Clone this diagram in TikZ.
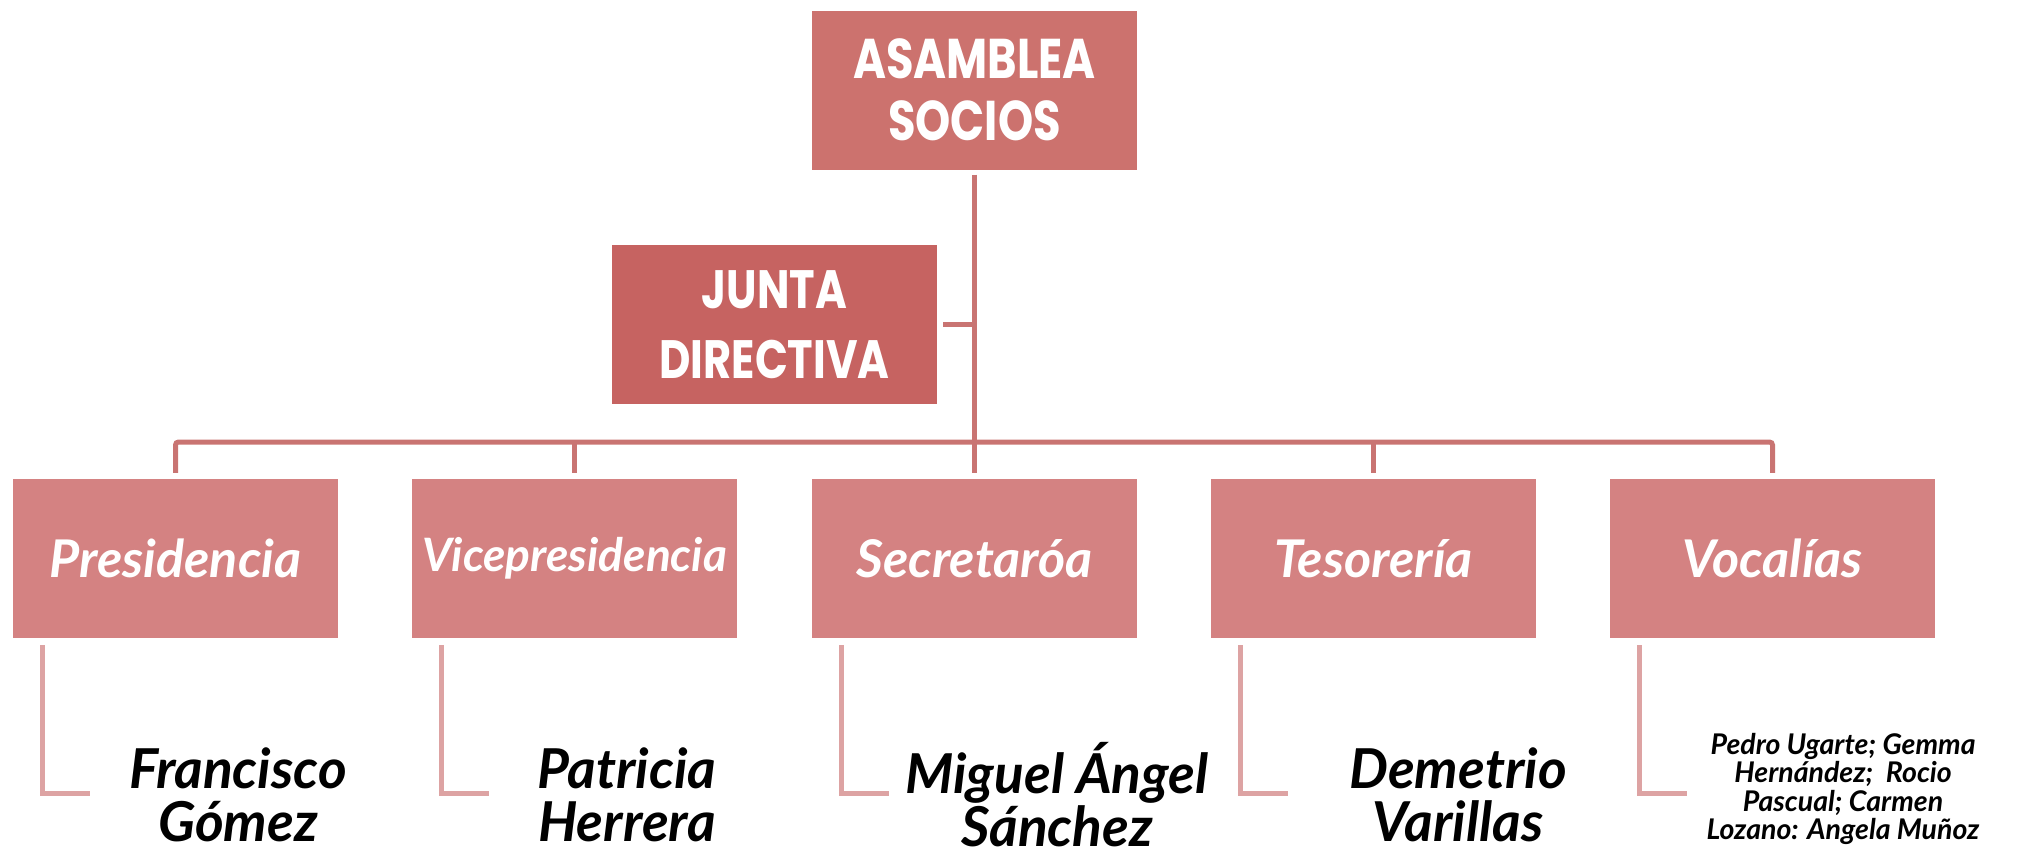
\documentclass[tikz,border=0pt]{standalone}
\usepackage{fontspec}
\newfontfamily\headf{Poppins}[FakeStretch=0.8]
\newfontfamily\scrf{Lato}
\definecolor{topc}{HTML}{CC726E}
\definecolor{juntac}{HTML}{C66361}
\definecolor{levc}{HTML}{D48282}
\definecolor{connc}{HTML}{C97472}
\definecolor{lc}{HTML}{DDA3A3}
\tikzset{
  headbox/.style={fill=topc, minimum width=325pt, minimum height=159pt, inner sep=0pt,
    text=white, align=center, font=\headf\bfseries\fontsize{56}{62}\selectfont},
  levbox/.style={fill=levc, minimum width=325pt, minimum height=159pt, inner sep=0pt,
    text=white, align=center, font=\scrf\bfseries\itshape\fontsize{52}{58}\selectfont},
  namef/.style={text=black, align=center, inner sep=0pt, font=\scrf\bfseries\itshape\fontsize{55}{53}\selectfont},
  conn/.style={draw=connc, line width=5pt, rounded corners=3pt},
  lconn/.style={draw=lc, line width=5pt}
}
\begin{document}
\begin{tikzpicture}[x=1pt,y=-1pt]
\useasboundingbox (0,0) rectangle (2019,857);
% top boxes
\node[headbox] (top) at (974.5,90) {ASAMBLEA\\SOCIOS};
\node[headbox, fill=juntac, font=\headf\bfseries\fontsize{54}{70}\selectfont] (junta) at (774.5,324.5) {JUNTA\\DIRECTIVA};
% level-2 boxes
\node[levbox] (p1) at (175.5,558.5) {Presidencia};
\node[levbox, font=\scrf\bfseries\itshape\fontsize{46}{52}\selectfont] (p2) at (574.5,558.5) {Vicepresidencia};
\node[levbox] (p3) at (974.5,558.5) {Secretaróa};
\node[levbox] (p4) at (1373.5,558.5) {Tesorería};
\node[levbox] (p5) at (1772.5,558.5) {Vocalías};
% names
\node[namef] (n1) at (238,795) {Francisco\\Gómez};
\node[namef] (n2) at (627,795) {Patricia\\Herrera};
\node[namef] (n3) at (1057,795) {Miguel Ángel\\Sánchez};
\node[namef] (n4) at (1458,795) {Demetrio\\Varillas};
\node[namef, font=\scrf\bfseries\itshape\fontsize{28.5}{28.5}\selectfont] (n5) at (1843,789) {Pedro Ugarte; Gemma\\Hernández;\ \ Rocio\\Pascual; Carmen\\Lozano: Angela Muñoz};
% connectors
\coordinate (bar) at (974.5,442);
\draw[conn] ([yshift=-5pt]top.south) -- ([yshift=6pt]p3.north);
\draw[conn] ([xshift=6pt]junta.east) -- (junta.east -| top.south);
\draw[conn] ([yshift=6pt]p1.north) |- (bar) -| ([yshift=6pt]p5.north);
\draw[conn] (bar -| p2.north) -- ([yshift=6pt]p2.north);
\draw[conn] (bar -| p4.north) -- ([yshift=6pt]p4.north);
% L connectors
\foreach \b in {p1,p2,p3,p4,p5}{
  \draw[lconn] ([xshift=30pt,yshift=-7pt]\b.south west) |- ++(47,148);
}
\end{tikzpicture}
\end{document}
